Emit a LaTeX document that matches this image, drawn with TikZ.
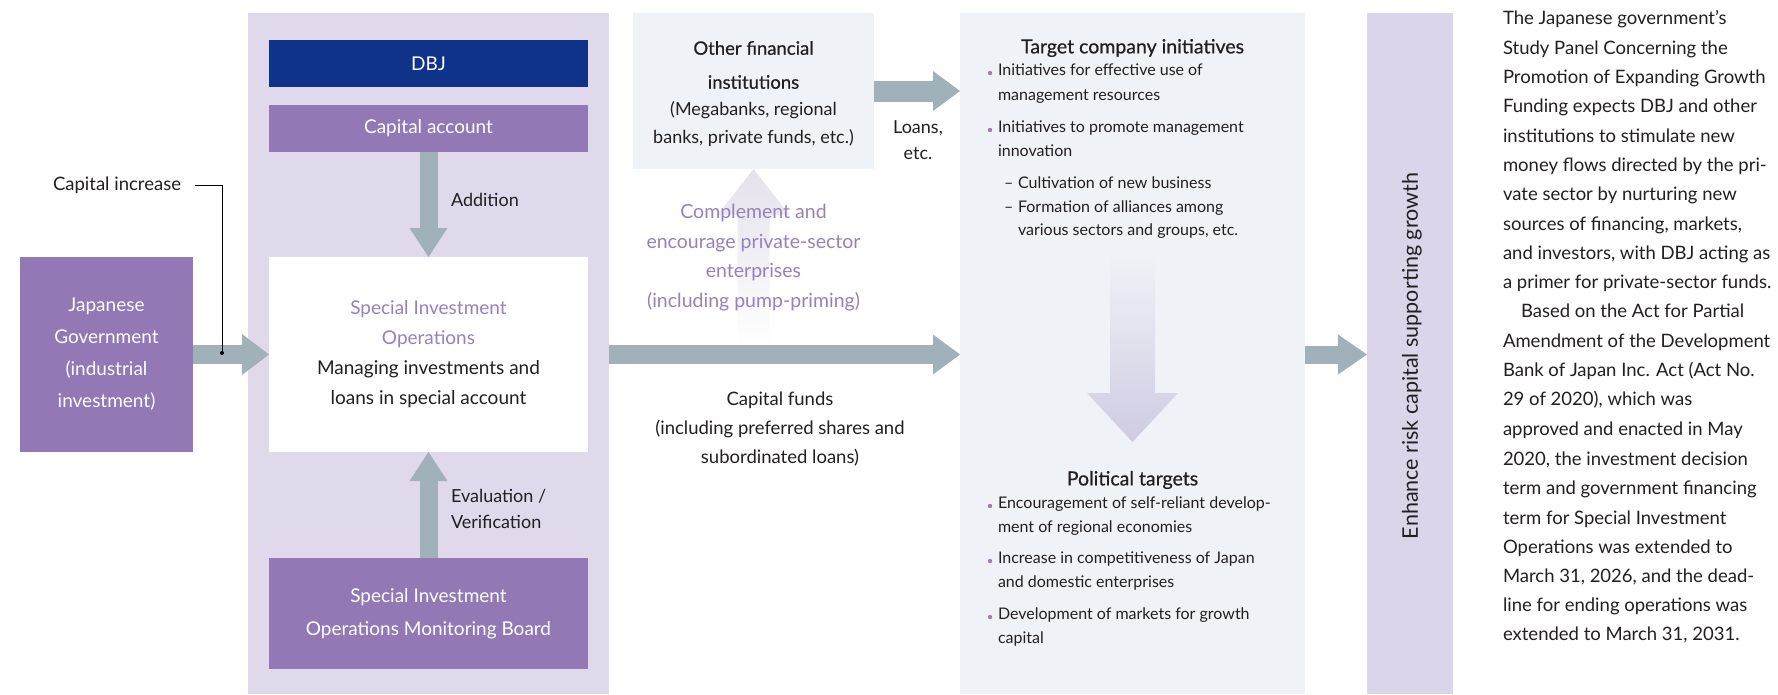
\documentclass[tikz,border=0pt]{standalone}
\usepackage{fontspec}
\setmainfont{Lato}
\newfontfamily\medfont[FakeBold=0.6]{Lato}
\usetikzlibrary{arrows.meta}
\definecolor{panel}{HTML}{E0D9EC}
\definecolor{boxpurple}{HTML}{9278B5}
\definecolor{navy}{HTML}{0E3388}
\definecolor{arrowc}{HTML}{A1B1B9}
\definecolor{lightpanel}{HTML}{EFF3F7}
\definecolor{enh}{HTML}{DBD5EA}
\definecolor{ptext}{HTML}{9682BB}
\definecolor{tcol}{HTML}{231F20}
\definecolor{bul}{HTML}{9B7DC2}
\definecolor{pumptop}{HTML}{E4E1EC}
\definecolor{downbot}{HTML}{CFCBE2}
\begin{document}
\begin{tikzpicture}[x=1pt,y=-1pt,
  every node/.style={inner sep=0pt, outer sep=0pt, text=tcol},
  rect/.style={rectangle, anchor=north west},
  barrow/.style={draw=arrowc, line width=19pt, line cap=butt,
    -{Triangle[width=40pt,length=27pt,line width=0pt]}},
  whitetxt/.style={text=white, align=center, font=\fontsize{19}{32}\selectfont},
  lbl/.style={align=center, font=\fontsize{18}{28}\selectfont},
  bl/.style={anchor=mid west, font=\fontsize{16}{24}\selectfont},
  ttl/.style={font=\medfont\fontsize{19.5}{24}\selectfont},
  pl/.style={anchor=mid west, font=\fontsize{18.5}{29.3}\selectfont},
]
\useasboundingbox (0,0) rectangle (1778,694);
% panels
\node[rect, fill=panel, minimum width=361pt, minimum height=681pt] (dbjpanel) at (248,13) {};
\node[rect, fill=lightpanel, minimum width=241pt, minimum height=156pt] (ofi) at (633,13) {};
\node[rect, fill=lightpanel, minimum width=345pt, minimum height=681pt] (tgt) at (960,13) {};
\node[rect, fill=enh, minimum width=86pt, minimum height=681pt] (enh) at (1367,13) {};
% boxes
\node[rect, fill=navy, minimum width=319pt, minimum height=47pt, whitetxt] (dbj) at (269,40) {DBJ};
\node[rect, fill=boxpurple, minimum width=319pt, minimum height=47pt, whitetxt] (cap) at (269,105) {Capital account};
\node[rect, fill=white, minimum width=319pt, minimum height=195pt, align=center, font=\fontsize{19}{30}\selectfont] (sio) at (269,257)
  {\textcolor{ptext}{Special Investment}\\\textcolor{ptext}{Operations}\\Managing investments and\\loans in special account};
\node[rect, fill=boxpurple, minimum width=319pt, minimum height=111pt, whitetxt, font=\fontsize{19}{33}\selectfont] (mon) at (269,558)
  {Special Investment\\Operations Monitoring Board};
\node[rect, fill=boxpurple, minimum width=173pt, minimum height=195pt, whitetxt] (gov) at (20,257)
  {Japanese\\Government\\(industrial\\investment)};
% gradient arrows
\shade[top color=pumptop, bottom color=white]
  (ofi.south) -- (789.5,215) -- (769.5,215) -- (769.5,346) -- (737.5,346) -- (737.5,215) -- (717.5,215) -- cycle;
\shade[top color=lightpanel, bottom color=downbot]
  (1110,253) -- (1155,253) -- (1155,393) -- (1178,393) -- (1132.5,442) -- (1087,393) -- (1110,393) -- cycle;
% block arrows
\draw[barrow, line width=18pt, -{Triangle[width=38pt,length=29pt,line width=0pt]}] (cap.south) -- (sio.north);
\draw[barrow, line width=18pt, -{Triangle[width=38pt,length=29pt,line width=0pt]}] (mon.north) -- (sio.south);
\draw[barrow, -{Triangle[width=41pt,length=27pt,line width=0pt]}] (gov.east) -- (sio.west);
\draw[barrow] (sio.east -| dbjpanel.east) -- (sio.east -| tgt.west);
\draw[barrow, line width=21pt] (ofi.east) -- (ofi.east -| tgt.west);
\draw[barrow, line width=18pt, -{Triangle[width=40pt,length=29pt,line width=0pt]}] (sio.east -| tgt.east) -- (sio.east -| enh.west);
% capital increase
\node[font=\fontsize{18.5}{24}\selectfont] (ci) at (117,185) {Capital increase};
\coordinate (cidot) at (222,353);
\draw[line width=1pt] ([xshift=14pt]ci.east) -| (cidot);
\fill (cidot) circle (2pt);
% labels
\node[lbl, anchor=mid west] (add) at (451,204) {Addition};
\node[lbl, align=left, anchor=west, font=\fontsize{18}{26}\selectfont] (eval) at (451,509) {Evaluation /\\Verification};
\node[align=center, font=\medfont\fontsize{18.5}{34}\selectfont] (ofit) at (753.5,65) {Other financial\\institutions};
\node[lbl] (ofis) at (753.5,124) {(Megabanks, regional\\banks, private funds, etc.)};
\node[lbl, font=\fontsize{18}{26}\selectfont] (loans) at (918,140) {Loans,\\etc.};
\node[align=center, text=ptext, font=\fontsize{19.5}{29.7}\selectfont] (comp) at (753.5,257.5)
  {Complement and\\encourage private-sector\\enterprises\\(including pump-priming)};
\node[lbl, font=\fontsize{18.5}{29}\selectfont] (capf) at (780,429) {Capital funds\\(including preferred shares and\\subordinated loans)};
% target panel
\node[ttl] (tct) at (1132.5,48) {Target company initiatives};
\node[ttl] (ptt) at (1132.5,480) {Political targets};
\foreach \n/\x/\y/\t in {a/998/73/{Initiatives for effective use of}, b/998/98/{management resources},
  c/998/130/{Initiatives to promote management}, d/998/154/{innovation},
  e/1018/186/{Cultivation of new business}, f/1018/210/{Formation of alliances among},
  g/1018/233/{various sectors and groups, etc.},
  h/998/506/{Encouragement of self-reliant develop-}, i/998/530/{ment of regional economies},
  j/998/561/{Increase in competitiveness of Japan}, k/998/585/{and domestic enterprises},
  l/998/617/{Development of markets for growth}, m/998/641/{capital}}
  {\node[bl] (tl\n) at (\x,\y) {\t};}
\node[bl] (dashe) at (1004,186) {–};
\node[bl] (dashf) at (1004,210) {–};
\foreach \y in {73,130,506,561,617} \fill[bul] (990,\y) circle (2.2pt);
% enhance
\node[rotate=90, font=\fontsize{21.5}{24}\selectfont] (enht) at (1412,356) {Enhance risk capital supporting growth};
% paragraph
\foreach \n/\y/\t in {
  1/22/{The Japanese government’s},
  2/52/{Study Panel Concerning the},
  3/81/{Promotion of Expanding Growth},
  4/110/{Funding expects DBJ and other},
  5/140/{institutions to stimulate new},
  6/169/{money flows directed by the pri-},
  7/198/{vate sector by nurturing new},
  8/228/{sources of financing, markets,},
  9/257/{and investors, with DBJ acting as},
  10/286/{a primer for private-sector funds.},
  11/315/{\hspace*{18pt}Based on the Act for Partial},
  12/345/{Amendment of the Development},
  13/374/{Bank of Japan Inc. Act (Act No.},
  14/403/{29 of 2020), which was},
  15/433/{approved and enacted in May},
  16/463/{2020, the investment decision},
  17/492/{term and government financing},
  18/522/{term for Special Investment},
  19/551/{Operations was extended to},
  20/580/{March 31, 2026, and the dead-},
  21/609/{line for ending operations was},
  22/638/{extended to March 31, 2031.}}
  {\node[pl] (p\n) at (1503,\y) {\t};}
\end{tikzpicture}
\end{document}
